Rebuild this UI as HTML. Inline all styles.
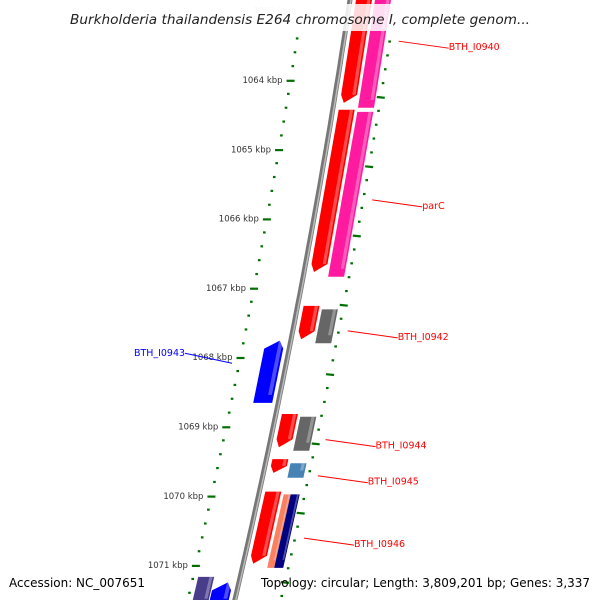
<!DOCTYPE html>
<html><head><meta charset="utf-8"><style>
body{margin:0;background:#fff}
svg{display:block;font-family:"DejaVu Sans","Liberation Sans",sans-serif}
</style></head><body>
<svg id="map" width="600" height="600" viewBox="0 0 600 600">
<g id="ticks"></g>
<g id="genes"></g>
<g id="labels"></g>
<rect x="60" y="4" width="480" height="27" fill="#fff" opacity="0.85"/>
<text x="70" y="24" font-size="13" font-style="italic" fill="#222" textLength="460" lengthAdjust="spacingAndGlyphs">Burkholderia thailandensis E264 chromosome I, complete genom...</text>
<text x="9" y="587" font-size="12" fill="#000" textLength="136" lengthAdjust="spacingAndGlyphs">Accession: NC_007651</text>
<text x="261" y="587" font-size="12" fill="#000" textLength="329" lengthAdjust="spacingAndGlyphs">Topology: circular; Length: 3,809,201 bp; Genes: 3,337</text>
</svg>
<script>
// data
const tickKbp = [1063,1064,1065,1066,1067,1068,1069,1070,1071];
const geneNames = ["BTH_I0940","BTH_I0940b","parC","parCb","BTH_I0942","BTH_I0942b","BTH_I0943","BTH_I0944","BTH_I0944b","BTH_I0945","BTH_I0945b","BTH_I0946","BTH_I0946b","BTH_I0946c","BTH_I0947","BTH_I0948"];
const geneStart = [1062.8,1062.8,1064.43,1064.46,1067.26,1067.31,1067.76,1068.82,1068.86,1069.47,1069.53,1069.94,1069.98,1069.98,1071.17,1071.25];
const geneEnd   = [1064.33,1064.4,1066.77,1066.84,1067.74,1067.80,1068.66,1069.30,1069.35,1069.67,1069.74,1070.98,1071.04,1071.04,1071.6,1071.6];
const geneStrand= [1,1,1,1,1,1,-1,1,1,1,1,1,1,1,-1,-1];
const geneTrack = [1,2,1,2,1,2,1,1,2,1,2,1,2,3,2,1];
const geneColor = ["#ff0000","#ff1aa0","#ff0000","#ff1aa0","#ff0000","#666666","#0000ff","#ff0000","#666666","#ff0000","#4682b4","#ff0000","#fa8060","#000080","#483d8b","#0000ff"];
const labelText = ["BTH_I0940","parC","BTH_I0942","BTH_I0943","BTH_I0944","BTH_I0945","BTH_I0946"];
const labelKbp  = [1063.44,1065.73,1067.62,1068.0,1069.19,1069.71,1070.61];

const NS="http://www.w3.org/2000/svg";
const Y=k=>80+(k-1064)*69.3;
const BX=y=>350-0.15*y-0.00007*y*y;
function mk(tag,attrs,parent){const e=document.createElementNS(NS,tag);for(const a in attrs)e.setAttribute(a,attrs[a]);parent.appendChild(e);return e;}
const tg=document.getElementById('ticks'),gg=document.getElementById('genes'),lg=document.getElementById('labels');

// backbone
const bb=[];for(let y=-5;y<=605;y+=10)bb.push((BX(y)).toFixed(1)+','+y);
const bbl=mk('polyline',{points:bb.join(' '),fill:'none',stroke:'#777','stroke-width':5},tg);


const bbh=mk('polyline',{points:bb.join(' '),fill:'none',stroke:'#bbb','stroke-width':1.5,transform:'translate(1,0)'},tg);



// ticks
for(let i=0;i<=50;i++){const k=1063+i*0.2;
  const major=i%5===0;
  const y=Y(k);
  if(y>30&&y<600){
    const xl=BX(y)-47;
    const t=mk('line',{x1:xl-(major?4:1.3),y1:y-(major?-0.8:0),x2:xl+(major?4:1.3),y2:y+(major?0.8:0),stroke:'#007000','stroke-width':2.2},tg);
    
    
  }
  const yr=y+17;
  if(yr>30&&yr<600){
    const xr=BX(yr)+46;
    const r=mk('line',{x1:xr-(major?4:1.3),y1:yr,x2:xr+(major?4:1.3),y2:yr+(major?0.8:0),stroke:'#007000','stroke-width':2.2},tg);
    
    
  }
}
tickKbp.forEach(k=>{const y=Y(k);const t=mk('text',{x:BX(y)-55,y:y+3,'text-anchor':'end','font-size':8.5,fill:k===1063?'#ccc':'#333'},tg);t.textContent=k+' kbp';
  
  });

// genes
const trackOff={1:[6,22],2:[25,41],3:[32,41]};
geneNames.forEach((n,i)=>{
  let [a,b]=trackOff[geneTrack[i]];
  if(geneTrack[i]===2&&i===12){a=25;b=32;}
  if(geneStrand[i]<0){ if(geneTrack[i]===1){a=-25;b=-6;} else {a=-42;b=-26;} }
  const y1=Y(geneStart[i]),y2=Y(geneEnd[i]);const h=Math.min(8,(y2-y1)/2);
  let pts;
  if(geneStrand[i]>0&&geneTrack[i]===1){const m=a+4;
    pts=[[BX(y1)+a,y1],[BX(y1)+b,y1],[BX(y2-h)+b,y2-h],[BX(y2)+m,y2],[BX(y2-h)+a,y2-h]];}
  else if(geneStrand[i]<0&&geneTrack[i]===1){const m=b-5;
    pts=[[BX(y1)+m,y1],[BX(y1+h)+b,y1+h],[BX(y2)+b,y2],[BX(y2)+a,y2],[BX(y1+h)+a,y1+h]];}
  else pts=[[BX(y1)+a,y1],[BX(y1)+b,y1],[BX(y2)+b,y2],[BX(y2)+a,y2]];
  const p=mk('polygon',{points:pts.map(q=>q[0].toFixed(1)+','+q[1].toFixed(1)).join(' '),fill:geneColor[i]},gg);
  
  
  const w=b-a;const s=mk('polygon',{points:[[BX(y1)+b-w*0.3,y1],[BX(y1)+b-w*0.1,y1],[BX(y2-h)+b-w*0.1,y2-h],[BX(y2-h)+b-w*0.3,y2-h]].map(q=>q[0].toFixed(1)+','+q[1].toFixed(1)).join(' '),fill:'#fff',opacity:0.3},gg);
  
  
});

// labels
labelText.forEach((t,i)=>{const y=Y(labelKbp[i]);
  if(t==='BTH_I0943'){
    const l=mk('line',{x1:232,y1:y+6,x2:185,y2:y-4,stroke:'#00f','stroke-width':1},lg);
    
    
    const tx=mk('text',{x:134,y:y-1,'font-size':9.5,fill:'#00f',textLength:51,lengthAdjust:'spacingAndGlyphs'},lg);tx.textContent=t;
    
    
    return;}
  const x0=BX(y)+55;
  const l=mk('line',{x1:x0,y1:y,x2:x0+50,y2:y+7,stroke:'#f00','stroke-width':1},lg);
  
  
  const tx=mk('text',{x:x0+50,y:y+9,'font-size':9.5,fill:'#f00'},lg);tx.textContent=t;
  if(t!=='parC'){tx.setAttribute('textLength',51);tx.setAttribute('lengthAdjust','spacingAndGlyphs');}
  
  
});
</script>
</body></html>
